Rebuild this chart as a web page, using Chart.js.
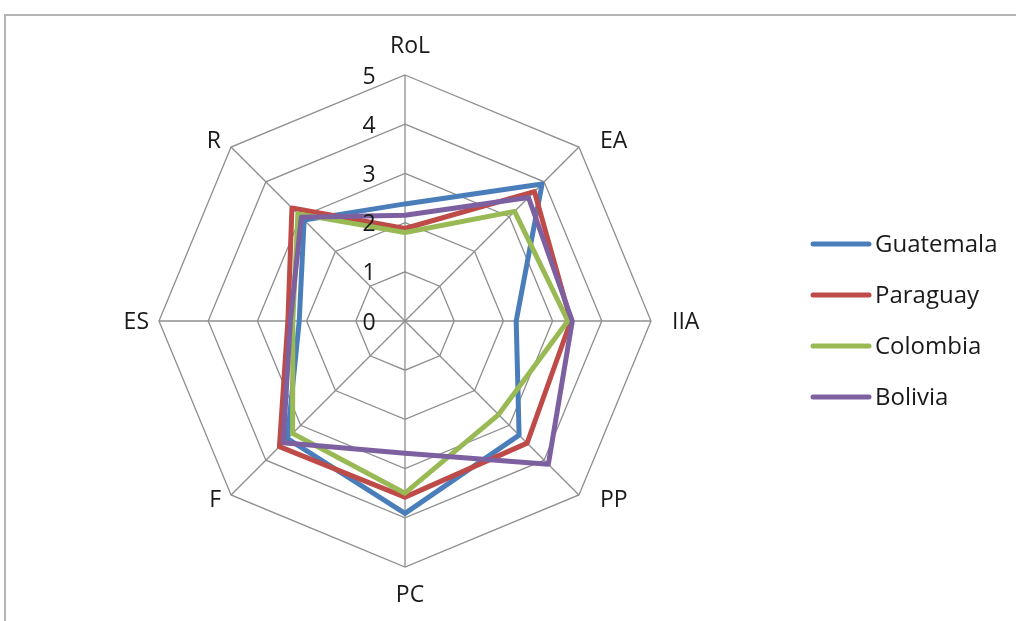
<!DOCTYPE html>
<html>
<head>
<meta charset="utf-8">
<script src="https://cdn.jsdelivr.net/npm/chart.js@4/dist/chart.umd.min.js"></script>
<style>
  html, body { margin: 0; padding: 0; background: #fff; overflow: hidden; }
  #wrap { position: relative; width: 1016px; height: 621px; }
  #marco { position: absolute; left: 4px; top: 14px; width: 1030px; height: 640px; border-top: 2px solid #b4b4b4; border-left: 2px solid #b4b4b4; }
  canvas { position: absolute; left: 0; top: 0; }
</style>
</head>
<body>
<div id="wrap">
  <div id="marco"></div>
  <canvas id="radarChart" width="1016" height="621"></canvas>
</div>
<script>
// ejes del radar
const ejes = ['RoL', 'EA', 'IIA', 'PP', 'PC', 'F', 'ES', 'R'];
// valores
const guatemala = [2.38, 3.94, 2.26, 3.28, 3.91, 3.38, 2.15, 2.90];
const paraguay  = [1.88, 3.72, 3.37, 3.51, 3.58, 3.61, 2.38, 3.25];
const colombia  = [1.80, 3.15, 3.31, 2.69, 3.50, 3.23, 2.28, 3.08];
const bolivia   = [2.15, 3.55, 3.40, 4.12, 2.69, 3.50, 2.33, 2.98];
const paises = ['Guatemala', 'Paraguay', 'Colombia', 'Bolivia'];
const ticks = [0, 1, 2, 3, 4, 5];

const colores = ['#4a7ebb', '#be4b48', '#98b954', '#7d60a0'];
const series = [guatemala, paraguay, colombia, bolivia];
const fuente = '23px "Open Sans", sans-serif';

//etiquetas de ejes, ticks y leyenda pintados a mano
const etiquetasPlugin = {
    id: 'etiquetas',
    afterDraw(chart) {
        const ctx = chart.ctx;
        const r = chart.scales.r;
        const R = r.drawingArea;
        ctx.save();
        ctx.fillStyle = '#1a1a1a';
        ctx.font = fuente;

        // nombres de los ejes
        chart.data.labels.forEach((lab, i) => {
            const p = r.getPointPosition(i, R);
            const cos = (p.x - r.xCenter) / R;
            const sin = (p.y - r.yCenter) / R;
            let x = p.x, y = p.y;
            if (cos > 0.1) { ctx.textAlign = 'left'; x += 21; }
            else if (cos < -0.1) { ctx.textAlign = 'right'; x -= 10; }
            else { ctx.textAlign = 'center'; x += 5; }
            ctx.textBaseline = 'middle';
            if (sin < -0.9) y -= 28.5;
            else if (sin > 0.9) y += 28;
            else if (Math.abs(sin) > 0.1) y += sin * 8;
            else y += 1;
            ctx.fillText(lab, x, y);
        });

        // valores de la escala
        ctx.textAlign = 'center';
        ctx.textBaseline = 'middle';
        ticks.forEach(v => {
            const d = r.getDistanceFromCenterForValue(v);
            ctx.fillText(String(v), r.xCenter - 36, r.yCenter - d + 2);
        });

        // leyenda
        ctx.textAlign = 'left';
        ctx.font = '24px "Open Sans", sans-serif';
        chart.data.datasets.forEach((ds, i) => {
            const y = 244 + i * 51;
            ctx.strokeStyle = ds.borderColor;
            ctx.lineWidth = 5;
            ctx.lineCap = 'round';
            ctx.beginPath();
            ctx.moveTo(813, y);
            ctx.lineTo(869, y);
            ctx.stroke();
            ctx.fillText(ds.label, 875, y + 1);
        });
        ctx.restore();
    }
};

const data = {
    labels: ejes,
    datasets: paises.map((nombre, i) => ({
        label: nombre,
        data: series[i],
        borderColor: colores[i],
        backgroundColor: colores[i],
        borderWidth: 5,
        borderJoinStyle: 'round',
        fill: false,
        pointRadius: 0,
        pointHoverRadius: 0,
        tension: 0,
        order: paises.length - i,
    }))
};

const options = {
    responsive: false,
    animation: false,
    layout: {
        padding: { left: 159, right: 365, top: 75, bottom: 54 }
    },
    plugins: {
        legend: { display: false },
        tooltip: { enabled: false },
    },
    scales: {
        r: {
            min: 0,
            max: 5,
            ticks: { stepSize: 1, display: false },
            grid: { color: '#8e8e8e', lineWidth: 1.3 },
            angleLines: { color: '#8e8e8e', lineWidth: 1.3 },
            pointLabels: { display: false },
        }
    }
};

new Chart('radarChart', {
    type: 'radar',
    data,
    options,
    plugins: [etiquetasPlugin]
});
</script>
</body>
</html>
